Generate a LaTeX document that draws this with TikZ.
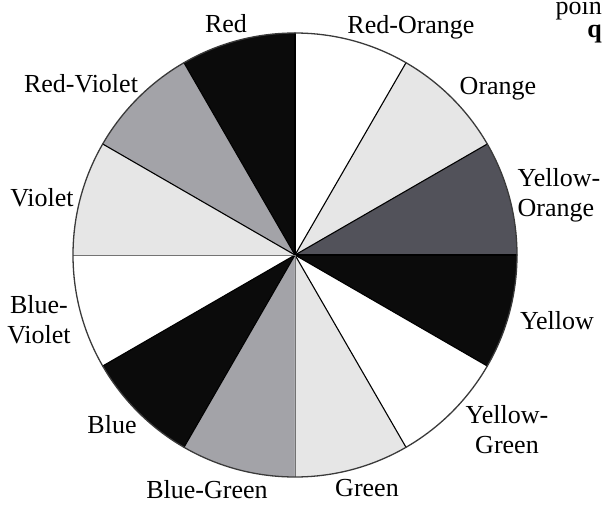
\documentclass[tikz,border=0pt]{standalone}
\usepackage{fontspec}
\setmainfont{Liberation Serif}
\usepackage{tikz}
\usetikzlibrary{positioning,calc}
\definecolor{wedgeblack}{HTML}{0B0B0B}
\definecolor{wedgewhite}{HTML}{FFFFFF}
\definecolor{wedgelight}{HTML}{E6E6E6}
\definecolor{wedgemid}{HTML}{A3A3A8}
\definecolor{wedgedark}{HTML}{52525A}
\definecolor{rimgray}{HTML}{3A3A3A}
\tikzset{
  wedge/.style={draw=black, line width=1.1pt, line cap=round},
  thinwedge/.style={draw=black!55, line width=0.7pt},
  rim/.style={draw=rimgray, line width=1.3pt},
  huename/.style={align=center, font=\fontsize{26}{30}\selectfont, inner sep=0pt},
  pagetext/.style={font=\fontsize{26}{30}\selectfont, inner sep=0pt, anchor=base east}
}

\begin{document}
\begin{tikzpicture}[x=1pt,y=1pt]
  \useasboundingbox (-295,-249) rectangle (308,255);
  \coordinate (c) at (0,0);

  % wedges, counter-clockwise from Yellow-Orange
  \foreach \a/\f in {0/wedgedark, 30/wedgelight, 60/wedgewhite, 90/wedgeblack,
                     120/wedgemid, 150/wedgelight, 180/wedgewhite, 210/wedgeblack,
                     240/wedgemid, 270/wedgelight, 300/wedgewhite, 330/wedgeblack}
    \fill[\f] (c) -- (\a:222) arc[start angle=\a, end angle=\a+30, radius=222] -- cycle;
  \foreach \a in {0,30,60,90,120,150,210,240,300,330}
    \draw[wedge] (c) -- (\a:222);
  \draw[thinwedge] (c) -- (180:222);
  \draw[thinwedge] (c) -- (270:222);
  \draw[rim] (c) circle[radius=222];

  \node[huename] (red) at (-69,231) {Red};
  \node[huename] (redorange) at (116,228) {Red-Orange};
  \node[huename] (orange) at (203,166) {Orange};
  \node[huename, align=left] (yelloworange) at (264,60) {Yellow-\\Orange};
  \node[huename] (yellow) at (262,-66) {Yellow};
  \node[huename] (yellowgreen) at (212,-175) {Yellow-\\Green};
  \node[huename] (green) at (72,-233) {Green};
  \node[huename] (bluegreen) at (-88,-235) {Blue-Green};
  \node[huename] (blue) at (-183,-170) {Blue};
  \node[huename] (blueviolet) at (-256,-65) {Blue-\\Violet};
  \node[huename] (violet) at (-253,57) {Violet};
  \node[huename] (redviolet) at (-214,171) {Red-Violet};

  % bits of the page text at the edge
  \node[pagetext] (pagepoint) at (307,240) {poin};
  \node[pagetext, font=\fontsize{26}{30}\selectfont\bfseries] (pageq) at (307,217) {q};
\end{tikzpicture}
\end{document}
